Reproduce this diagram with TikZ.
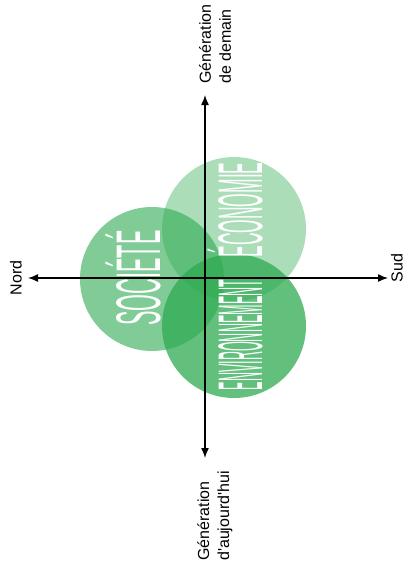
\documentclass[tikz,border=0pt]{standalone}
\usepackage{fontspec}
\setmainfont{Liberation Sans}
\usepackage{graphicx}
\usetikzlibrary{arrows.meta}

\definecolor{vert}{RGB}{45,170,80}

\tikzset{
  bulle/.style={circle, fill=vert, draw=none, inner sep=0pt, minimum size=144pt},
  pilier/.style={rotate=90, anchor=base, text=white, inner sep=0pt,
                 font=\fontsize{63}{63}\selectfont},
  repere/.style={rotate=90, inner sep=0pt, align=left,
                 font=\fontsize{16}{20}\selectfont},
  axe/.style={line width=1.4pt, {Latex[length=10pt,width=8pt]}-{Latex[length=10pt,width=8pt]}}
}

\begin{document}
\begin{tikzpicture}[x=1pt,y=-1pt]
                \useasboundingbox (0,0) rectangle (407,574);

                % les trois cercles
                \foreach \nm/\cx/\cy/\op in {eco/234/229/0.4, soc/152/279/0.6, env/234/326/0.75} {
                    \node[bulle, fill opacity=\op] (\nm) at (\cx,\cy) {};
                }

                % textes des piliers
                \node[pilier] (tsoc) at (160,278) {\scalebox{0.344}[1]{SOCIÉTÉ}};
                \node[pilier] (teco) at (262,210) {\scalebox{0.277}[1]{ÉCONOMIE}};
                \node[pilier] (tenv) at (262,335) {\scalebox{0.2}[1]{ENVIRONNEMENT}};

                % axes
                \coordinate (nord) at (28,278);
                \coordinate (sud) at (388,278);
                \coordinate (demain) at (205,95);
                \coordinate (auj) at (205,458);
                \draw[axe] (nord) -- (sud);
                \draw[axe] (auj) -- (demain);

                \node[repere, anchor=west] (ldemain) at (215,84) {Génération\\de demain};
                \node[repere, anchor=west] (lauj) at (215,561) {Génération\\d\textquotesingle aujourd\textquotesingle hui};
                \node[repere] (lnord) at (16,278) {Nord};
                \node[repere] (lsud) at (397,268) {Sud};
            \end{tikzpicture}
\end{document}
